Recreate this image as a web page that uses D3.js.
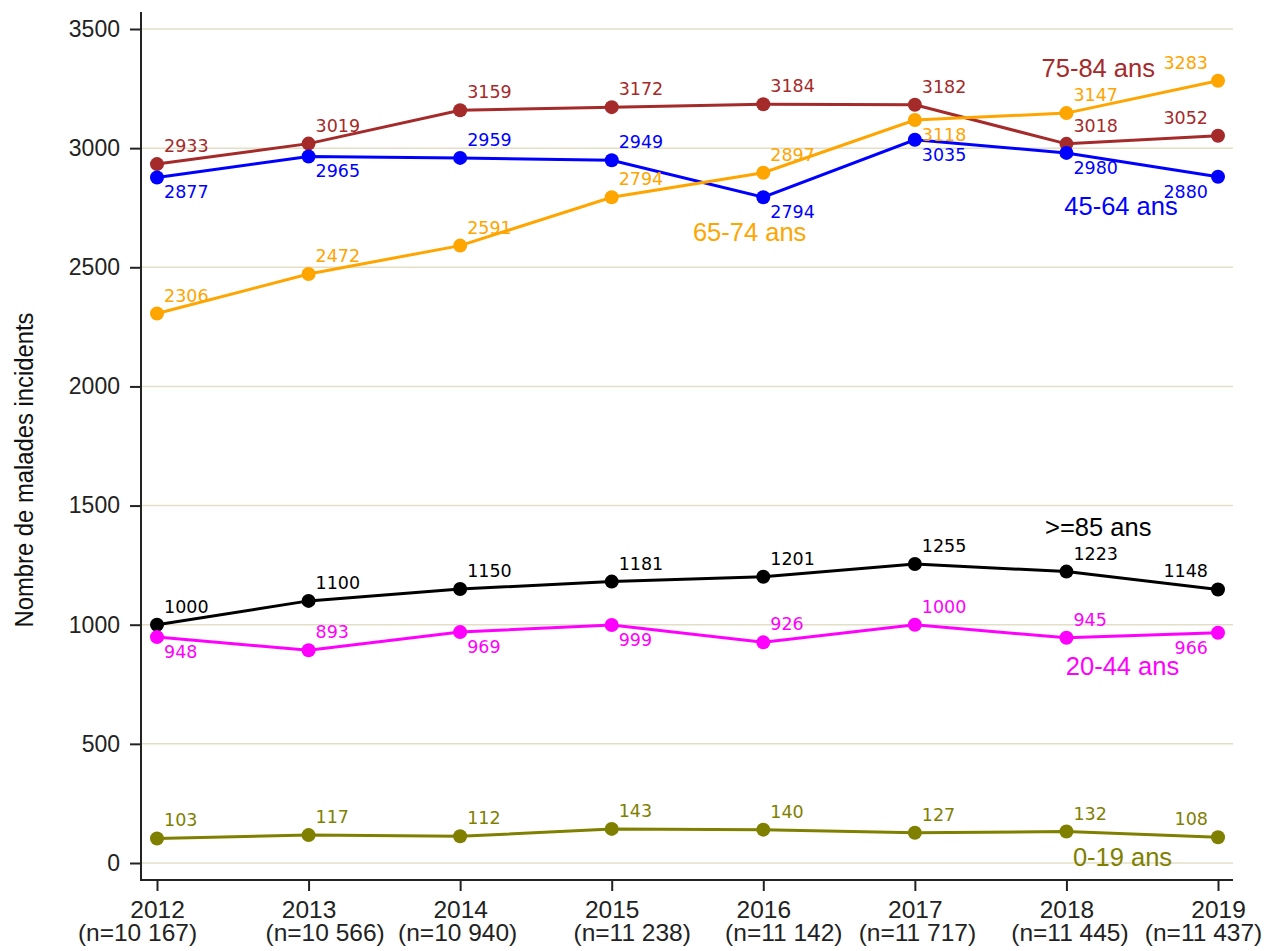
<!DOCTYPE html>
<html>
<head>
<meta charset="utf-8">
<script src="https://cdn.jsdelivr.net/npm/d3@7"></script>
<style>
  html, body { margin: 0; padding: 0; background: #fff; }
  svg { display: block; }
</style>
</head>
<body>
<svg id="chart" width="1272" height="951"></svg>
<script>
// ---------- DATA ----------
const years = [2012, 2013, 2014, 2015, 2016, 2017, 2018, 2019];
const yearCounts = ["(n=10 167)", "(n=10 566)", "(n=10 940)", "(n=11 238)", "(n=11 142)", "(n=11 717)", "(n=11 445)", "(n=11 437)"];
const yTicks = [0, 500, 1000, 1500, 2000, 2500, 3000, 3500];
const yTitle = "Nombre de malades incidents";

const seriesNames = ["75-84 ans", "45-64 ans", "65-74 ans", ">=85 ans", "20-44 ans", "0-19 ans"];
const v7584 = [2933, 3019, 3159, 3172, 3184, 3182, 3018, 3052];
const v4564 = [2877, 2965, 2959, 2949, 2794, 3035, 2980, 2880];
const v6574 = [2306, 2472, 2591, 2794, 2897, 3118, 3147, 3283];
const v85   = [1000, 1100, 1150, 1181, 1201, 1255, 1223, 1148];
const v2044 = [948, 893, 969, 999, 926, 1000, 945, 966];
const v019  = [103, 117, 112, 143, 140, 127, 132, 108];
const seriesValues = [v7584, v4564, v6574, v85, v2044, v019];

// ---------- STYLE / PLACEMENT ----------
const colors = ["#a52a2a", "#0000ff", "#ffa500", "#000000", "#ff00ff", "#808000"];
// value-label placement: a = above, b = below; r = right, l = left
const place = [
  ["ar","ar","ar","ar","ar","ar","ar","al"],
  ["br","br","ar","ar","br","br","br","bl"],
  ["ar","ar","ar","ar","ar","br","ar","al"],
  ["ar","ar","ar","ar","ar","ar","ar","al"],
  ["br","ar","br","br","ar","ar","ar","bl"],
  ["ar","ar","ar","ar","ar","ar","ar","al"]
];
// horizontal shift (px) of the "(n=...)" line under each year, as in the reference
const countShift = [-20, 16, -3, 20, 20, 2, 3, -15];
// series-name anchors in data coordinates [year, value]
const nameAnchors = [[2018.21, 3336], [2018.36, 2757], [2015.91, 2648], [2018.21, 1410], [2018.37, 827], [2018.37, 25]];

// ---------- CHART ----------
const svg = d3.select("#chart");
const x = d3.scaleLinear().domain([2012, 2019]).range([157, 1218]);
const y = d3.scaleLinear().domain([0, 3500]).range([863, 29]);
const axisLeft = 141, axisBottom = 880, plotRight = 1233, plotTop = 12;

// grid lines
svg.append("g").selectAll("line").data(yTicks).join("line")
  .attr("x1", axisLeft).attr("x2", plotRight)
  .attr("y1", d => y(d)).attr("y2", d => y(d))
  .attr("stroke", "#e3dfc6").attr("stroke-width", 1.5);

// y axis
const gy = svg.append("g").attr("transform", `translate(${axisLeft},0)`)
  .call(d3.axisLeft(y).tickValues(yTicks).tickSize(11).tickPadding(10).tickFormat(d3.format("d")));
gy.select(".domain").remove();
gy.selectAll(".tick line").attr("stroke", "#222").attr("stroke-width", 2);
gy.selectAll(".tick text").attr("font-family", "'Liberation Sans', Arial, sans-serif")
  .attr("font-size", 23).attr("fill", "#222");

// x axis
const gx = svg.append("g").attr("transform", `translate(0,${axisBottom})`)
  .call(d3.axisBottom(x).tickValues(years).tickSize(11).tickFormat(() => ""));
gx.select(".domain").remove();
gx.selectAll(".tick line").attr("stroke", "#222").attr("stroke-width", 2);
gx.selectAll(".tick").each(function(d, i) {
  const t = d3.select(this).append("text")
    .attr("text-anchor", "middle")
    .attr("font-family", "'Liberation Sans', Arial, sans-serif")
    .attr("font-size", 24.5).attr("fill", "#222");
  t.append("tspan").attr("x", 0).attr("y", 38).text(years[i]);
  t.append("tspan").attr("x", countShift[i]).attr("y", 61).text(yearCounts[i]);
});

// axis lines
svg.append("line").attr("x1", axisLeft).attr("x2", axisLeft).attr("y1", plotTop).attr("y2", axisBottom + 1)
  .attr("stroke", "#222").attr("stroke-width", 2);
svg.append("line").attr("x1", axisLeft - 1).attr("x2", plotRight).attr("y1", axisBottom).attr("y2", axisBottom)
  .attr("stroke", "#222").attr("stroke-width", 2);

// y title
svg.append("text")
  .attr("transform", "translate(33,470) rotate(-90)")
  .attr("text-anchor", "middle")
  .attr("font-family", "'Liberation Sans Narrow', 'Arial Narrow', 'Liberation Sans', Arial, sans-serif")
  .attr("font-size", 26)
  .attr("textLength", 315).attr("lengthAdjust", "spacingAndGlyphs")
  .attr("fill", "#111")
  .text(yTitle);

// series
const line = d3.line().x((d, i) => x(years[i])).y(d => y(d));
seriesValues.forEach((vals, s) => {
  const g = svg.append("g");
  g.append("path").datum(vals).attr("d", line)
    .attr("fill", "none").attr("stroke", colors[s]).attr("stroke-width", 3);
  g.selectAll("circle").data(vals).join("circle")
    .attr("cx", (d, i) => x(years[i])).attr("cy", d => y(d)).attr("r", 7)
    .attr("fill", colors[s]);
  g.selectAll("text.val").data(vals).join("text").attr("class", "val")
    .attr("x", (d, i) => x(years[i]) + (place[s][i][1] === "r" ? 7 : -10))
    .attr("y", (d, i) => y(d) + (place[s][i][0] === "a" ? -12 : 21))
    .attr("text-anchor", (d, i) => place[s][i][1] === "r" ? "start" : "end")
    .attr("font-family", "'DejaVu Sans', Verdana, sans-serif")
    .attr("font-size", 17.5)
    .attr("fill", colors[s])
    .text(d => d);
  g.append("text")
    .attr("x", x(nameAnchors[s][0])).attr("y", y(nameAnchors[s][1]))
    .attr("dy", "0.36em")
    .attr("text-anchor", "middle")
    .attr("font-family", "'Liberation Sans', Arial, sans-serif")
    .attr("font-size", 25.5)
    .attr("fill", colors[s])
    .text(seriesNames[s]);
});
</script>
</body>
</html>
